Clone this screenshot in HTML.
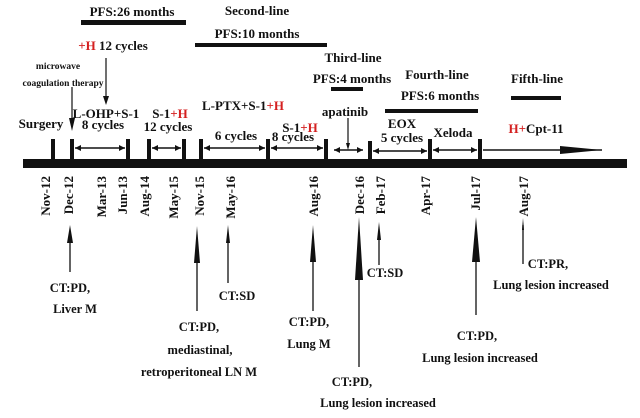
<!DOCTYPE html>
<html><head><style>
body{margin:0;background:#fff}
text{font-family:"Liberation Serif",serif;font-weight:bold;fill:#111}
</style></head><body>
<svg width="640" height="413" viewBox="0 0 640 413" xmlns="http://www.w3.org/2000/svg">
<defs>
<marker id="ah" viewBox="0 0 10 10" refX="10" refY="5" markerWidth="8" markerHeight="6" orient="auto-start-reverse" markerUnits="userSpaceOnUse"><path d="M0,0L10,5L0,10z" fill="#111"/></marker>
</defs>
<!-- main bar -->
<rect x="23" y="159" width="604" height="9" fill="#111"/>
<!-- ticks -->
<g fill="#111">
<rect x="51" y="139" width="4" height="21"/><rect x="70" y="139" width="4" height="21"/>
<rect x="126" y="139" width="4" height="21"/><rect x="147" y="139" width="4" height="21"/>
<rect x="182" y="139" width="4" height="21"/><rect x="199" y="139" width="4" height="21"/>
<rect x="266" y="139" width="4" height="21"/><rect x="324" y="139" width="4" height="21"/>
<rect x="368" y="141" width="4" height="19"/><rect x="428" y="139" width="4" height="21"/>
<rect x="478" y="139" width="4" height="21"/>
</g>
<!-- double arrows -->
<g stroke="#111" stroke-width="1.5" marker-start="url(#ah)" marker-end="url(#ah)">
<line x1="75" y1="148" x2="125" y2="148"/>
<line x1="152" y1="148" x2="181" y2="148"/>
<line x1="204" y1="148" x2="265" y2="148"/>
<line x1="271" y1="148" x2="323" y2="148"/>
<line x1="334" y1="150" x2="363" y2="150"/>
<line x1="373" y1="151" x2="427" y2="151"/>
<line x1="433" y1="150" x2="477" y2="150"/>
</g>
<line x1="483" y1="150" x2="602" y2="150" stroke="#111" stroke-width="1.5"/>
<path d="M560,146L602,150L560,154z" fill="#111"/>
<!-- down arrows -->
<g stroke="#111" stroke-width="1.2">
<line x1="106" y1="58" x2="106" y2="96"/><line x1="72" y1="87" x2="72" y2="124"/><line x1="348" y1="118" x2="348" y2="146"/>
</g>
<path d="M103,96L109,96L106,105z M69,118L75,118L72,131z M346,143L350,143L348,150z" fill="#111"/>
<!-- PFS bars -->
<g fill="#111">
<rect x="81" y="20" width="105" height="5"/><rect x="195" y="43" width="132" height="4"/>
<rect x="331" y="87" width="32" height="4"/><rect x="385" y="109" width="93" height="4"/>
<rect x="511" y="96" width="50" height="4"/>
</g>
<!-- top text -->
<g font-size="13" text-anchor="middle">
<text x="132" y="16">PFS:26 months</text>
<text x="257" y="15">Second-line</text>
<text x="257" y="38">PFS:10 months</text>
<text x="353" y="62">Third-line</text>
<text x="352" y="83">PFS:4 months</text>
<text x="345" y="116">apatinib</text>
<text x="437" y="79">Fourth-line</text>
<text x="440" y="100">PFS:6 months</text>
<text x="537" y="83">Fifth-line</text>
<text x="536" y="133"><tspan fill="#d42020" style="fill:#d42020">H+</tspan>Cpt-11</text>
<text x="402" y="128">EOX</text>
<text x="402" y="142">5 cycles</text>
<text x="453" y="137">Xeloda</text>
<text x="113" y="50"><tspan style="fill:#d42020">+H</tspan> 12 cycles</text>
<text x="41" y="128">Surgery</text>
<text x="106" y="118">L-OHP+S-1</text>
<text x="103" y="129">8 cycles</text>
<text x="170" y="118">S-1<tspan style="fill:#d42020">+H</tspan></text>
<text x="168" y="131">12 cycles</text>
<text x="243" y="110">L-PTX+S-1<tspan style="fill:#d42020">+H</tspan></text>
<text x="236" y="140">6 cycles</text>
<text x="300" y="132">S-1<tspan style="fill:#d42020">+H</tspan></text>
<text x="293" y="141">8 cycles</text>
</g>
<g font-size="9.5" text-anchor="middle">
<text x="58" y="69">microwave</text>
<text x="63" y="86">coagulation therapy</text>
</g>
<!-- dates -->
<g font-size="13" text-anchor="end">
<text transform="translate(50,176) rotate(-90)">Nov-12</text>
<text transform="translate(73,176) rotate(-90)">Dec-12</text>
<text transform="translate(106,176) rotate(-90)">Mar-13</text>
<text transform="translate(127,176) rotate(-90)">Jun-13</text>
<text transform="translate(149,176) rotate(-90)">Aug-14</text>
<text transform="translate(178,176) rotate(-90)">May-15</text>
<text transform="translate(204,176) rotate(-90)">Nov-15</text>
<text transform="translate(235,176) rotate(-90)">May-16</text>
<text transform="translate(318,176) rotate(-90)">Aug-16</text>
<text transform="translate(364,176) rotate(-90)">Dec-16</text>
<text transform="translate(385,176) rotate(-90)">Feb-17</text>
<text transform="translate(430,176) rotate(-90)">Apr-17</text>
<text transform="translate(480,176) rotate(-90)">Jul-17</text>
<text transform="translate(528,176) rotate(-90)">Aug-17</text>
</g>
<!-- up arrows -->
<g stroke="#111" stroke-width="1.3">
<line x1="70" y1="240" x2="70" y2="272"/>
<line x1="197" y1="255" x2="197" y2="311"/>
<line x1="228" y1="240" x2="228" y2="283"/>
<line x1="313" y1="255" x2="313" y2="311"/>
<line x1="359" y1="275" x2="359" y2="367"/>
<line x1="379" y1="235" x2="379" y2="265"/>
<line x1="476" y1="255" x2="476" y2="315"/>
<line x1="523" y1="225" x2="523" y2="264"/>
</g>
<g fill="#111">
<path d="M67,243L70,225L73,243z"/>
<path d="M194,263L197,226L200,263z"/>
<path d="M226,243L228,225L230,243z"/>
<path d="M310,262L313,225L316,262z"/>
<path d="M355,280L359,217L363,280z"/>
<path d="M377,240L379,222L381,240z"/>
<path d="M472,262L476,217L480,262z"/>
<path d="M522,230L523,218L524,230z"/>
</g>
<!-- bottom labels -->
<g font-size="12.5" text-anchor="middle">
<text x="70" y="292">CT:PD,</text><text x="75" y="313">Liver M</text>
<text x="237" y="300">CT:SD</text>
<text x="199" y="331">CT:PD,</text><text x="200" y="354">mediastinal,</text><text x="199" y="376">retroperitoneal LN M</text>
<text x="309" y="326">CT:PD,</text><text x="309" y="348">Lung M</text>
<text x="352" y="386">CT:PD,</text><text x="378" y="407">Lung lesion increased</text>
<text x="385" y="277">CT:SD</text>
<text x="477" y="340">CT:PD,</text><text x="480" y="362">Lung lesion increased</text>
<text x="548" y="268">CT:PR,</text><text x="551" y="289">Lung lesion increased</text>
</g>
</svg>
</body></html>
